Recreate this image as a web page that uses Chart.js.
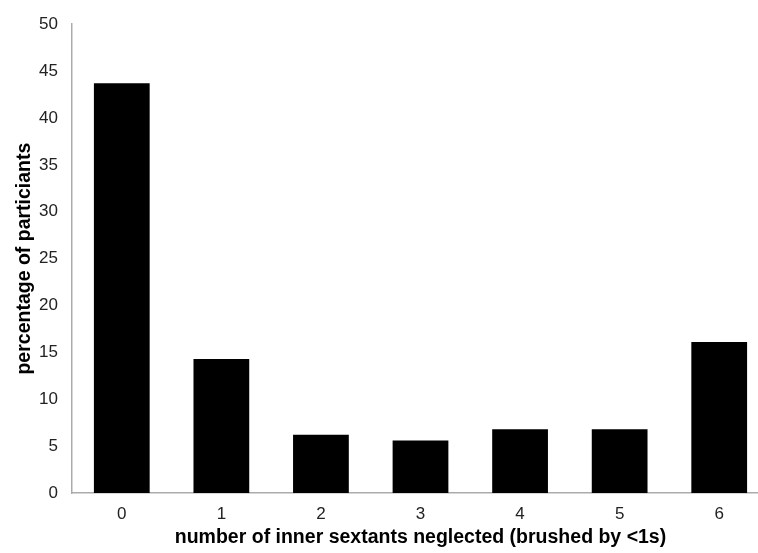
<!DOCTYPE html>
<html>
<head>
<meta charset="utf-8">
<script src="https://cdn.jsdelivr.net/npm/chart.js@4"></script>
<style>
  html, body { margin: 0; padding: 0; background: #fff; overflow: hidden; }
  /* the original is cut off on the right, so the canvas runs past the window */
  #wrap { width: 770px; height: 553px; }
</style>
</head>
<body>
<div id="wrap"><canvas id="neglectChart"></canvas></div>
<script>
// categories and values
const sextants = ['0', '1', '2', '3', '4', '5', '6'];
const percentages = [43.7, 14.3, 6.2, 5.6, 6.8, 6.8, 16.1];
const yTicks = [0, 5, 10, 15, 20, 25, 30, 35, 40, 45, 50];

Chart.defaults.font.family = '"Liberation Sans", Arial, sans-serif';
Chart.defaults.color = '#222';

new Chart(document.getElementById('neglectChart'), {
    type: 'bar',
    data: {
        labels: sextants,
        datasets: [{
            data: percentages,
            backgroundColor: '#000',
            borderWidth: 0,
            categoryPercentage: 1,
            barPercentage: 0.56
        }]
    },
    options: {
        responsive: true,
        maintainAspectRatio: false,
        animation: false,
        layout: { padding: { top: 17, right: 1, left: 13, bottom: 0 } },
        plugins: { legend: { display: false }, tooltip: { enabled: false } },
        scales: {
            x: {
                grid: { display: false, drawTicks: false },
                border: { color: '#ababab', width: 1.5 },
                ticks: { font: { size: 17 }, padding: 11 },
                title: {
                    display: true,
                    text: 'number of inner sextants neglected (brushed by <1s)',
                    font: { size: 19.5, weight: 'bold' },
                    color: '#000',
                    padding: { top: 2, bottom: 4 }
                },
                afterFit(s) { s.height = 60; }
            },
            y: {
                min: 0,
                max: 50,
                afterBuildTicks(s) { s.ticks = yTicks.map(v => ({ value: v })); },
                grid: { display: false, drawTicks: false },
                border: { color: '#ababab', width: 1.5 },
                ticks: { font: { size: 17 }, padding: 14 },
                title: {
                    display: true,
                    text: 'percentage of particiants',
                    font: { size: 19.5, weight: 'bold' },
                    color: '#000',
                    padding: { top: 0, bottom: 0 }
                },
                afterFit(s) { s.width = 59; }
            }
        }
    }
});
</script>
</body>
</html>
